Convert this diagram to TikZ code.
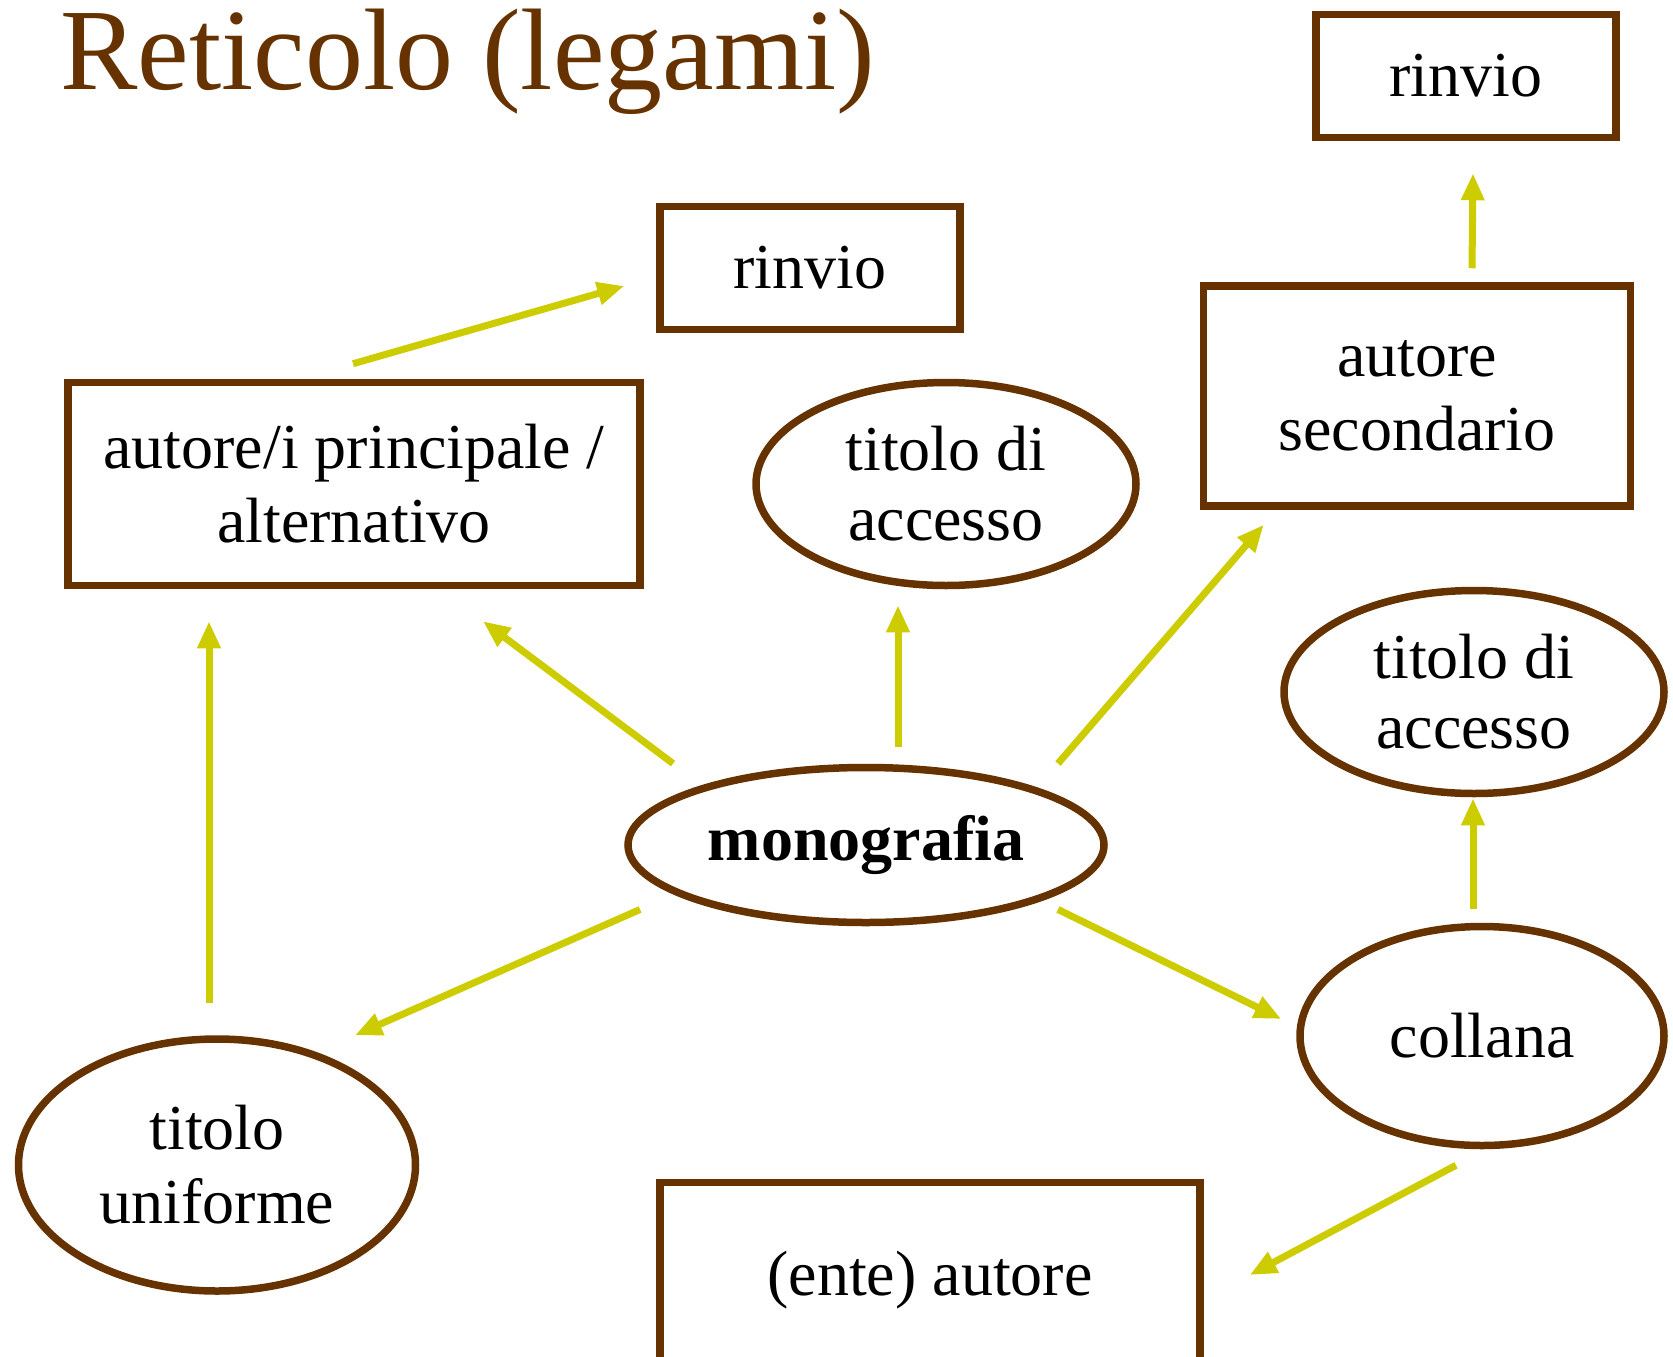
\documentclass[tikz,border=0pt]{standalone}
\usepackage{fontspec}
\setmainfont{Liberation Serif}
\usetikzlibrary{shapes.geometric,arrows.meta,calc}

\definecolor{marrone}{HTML}{663300}
\definecolor{giallo}{HTML}{CCCC00}

\begin{document}
\begin{tikzpicture}[
  x=1pt, y=-1pt,
  box/.style={rectangle, draw=marrone, line width=7.5pt, inner sep=0pt, align=center, font=\fontsize{64}{74}\selectfont},
  elli/.style={ellipse, draw=marrone, line width=7.5pt, inner sep=0pt, align=center, font=\fontsize{64}{70}\selectfont},
  legame/.style={draw=giallo, line width=7pt, -{Triangle[length=27pt,width=22pt]}}
]
\useasboundingbox (0,0) rectangle (1673,1357);

% Titolo
\node[anchor=base west, inner sep=0pt, text=marrone, font=\fontsize{116}{120}\selectfont] (titolo) at (60,89) {Reticolo (legami)};

% Nodi
\node[box, minimum width=300pt, minimum height=123pt] (rinvioa) at (810,268) {rinvio};
\node[box, minimum width=300pt, minimum height=123pt] (rinviob) at (1466,76) {rinvio};
\node[box, minimum width=572pt, minimum height=203pt] (autp) at (354,484) {autore/i principale /\\alternativo};
\node[elli, minimum width=380pt, minimum height=203pt] (tita) at (946,484) {titolo di\\accesso};
\node[box, minimum width=427pt, minimum height=220pt] (auts) at (1417,396) {autore\\secondario};
\node[elli, minimum width=380pt, minimum height=203pt] (titb) at (1474,692) {titolo di\\accesso};
\node[elli, minimum width=476pt, minimum height=155pt, font=\fontsize{64}{70}\selectfont\bfseries] (mono) at (866,845) {monografia};
\node[elli, minimum width=364pt, minimum height=219pt] (coll) at (1482,1036) {collana};
\node[elli, minimum width=397pt, minimum height=252pt, font=\fontsize{64}{74}\selectfont] (titu) at (217,1165) {titolo\\uniforme};
\node[box, minimum width=540pt, minimum height=195pt] (ente) at (930,1280) {(ente) autore};

% Legami
\draw[legame] ($(autp.north)+(-1,-15)$) -- ($(rinvioa.west)+(-32,18)$);
\draw[legame] ($(mono.north west)+(-22,-24)$) -- ($(autp.south)+(129,32)$);
\draw[legame] ($(mono.north)+(32,-17)$) -- ($(tita.south)+(-48,16)$);
\draw[legame] ($(mono.north east)+(21,-24)$) -- ($(auts.south west)+(64,15)$);
\draw[legame] ($(auts.north)+(55,-14)$) -- ($(rinviob.south)+(7,32)$);
\draw[legame] ($(coll.north)+(-9,-14)$) -- ($(titb.south)+(-1,1)$);
\draw[legame] ($(mono.south east)+(21,7)$) -- ($(coll.west)+(-15,-17)$);
\draw[legame] ($(mono.south west)+(-55,7)$) -- ($(titu.north east)+(-5,-38)$);
\draw[legame] ($(titu.north)+(-8,-32)$) -- ($(autp.south)+(-145,32)$);
\draw[legame] ($(coll.south)+(-26,16)$) -- ($(ente.east)+(46,-5)$);

\end{tikzpicture}
\end{document}
